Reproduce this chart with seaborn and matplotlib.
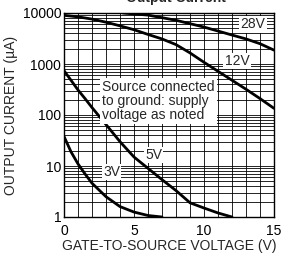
import numpy as np
import pandas as pd
import matplotlib
matplotlib.use("Agg")
import matplotlib.pyplot as plt
import seaborn as sns
from matplotlib.ticker import MultipleLocator, LogLocator, NullFormatter

# curves (gate-source voltage V, output current uA)
v3_x = [0, 0.5, 1.0, 1.5, 2.0, 3.0, 4.0, 5.0, 6.0, 7.0]
v3_y = [38, 19, 11, 7, 4.6, 2.5, 1.6, 1.25, 1.07, 1.0]

v5_x = [0, 0.5, 1.0, 1.5, 2.0, 3.0, 4.0, 5.0, 6.0, 7.0, 8.0, 9.0, 10.0, 11.0, 12.0]
v5_y = [740, 480, 310, 210, 140, 65, 30, 15, 9, 5.4, 3.3, 1.9, 1.5, 1.2, 1.0]

v12_x = [0, 1, 2, 3, 4, 5, 6, 7, 8, 9, 10, 11, 12, 13, 14, 15]
v12_y = [9000, 8400, 7600, 6600, 5600, 4700, 3800, 3100, 2400, 1650, 1080, 720, 480, 320, 210, 135]

v28_x = [4.2, 6, 8, 10, 12, 13, 14, 15]
v28_y = [10000, 9100, 7200, 5300, 3700, 3100, 2500, 1870]

curve_names = ["3V", "5V", "12V", "28V"]
label_x = [3.4, 6.4, 12.35, 13.5]
label_y = [7.6, 16.5, 1150, 6000]

frames = []
for name, xs, ys in zip(curve_names, [v3_x, v5_x, v12_x, v28_x], [v3_y, v5_y, v12_y, v28_y]):
    frames.append(pd.DataFrame({"vgs": xs, "iout": ys, "supply": name}))
df = pd.concat(frames, ignore_index=True)

sns.set_style("white")
plt.rcParams["font.family"] = ["Liberation Sans", "DejaVu Sans"]

fig = plt.figure(figsize=(2.84, 2.54), dpi=100)
ax = fig.add_axes([64/284, 1 - 217/254, 210/284, 204/254])

for name in curve_names:
    sns.lineplot(data=df[df["supply"] == name], x="vgs", y="iout", color="black",
                 linewidth=2.0, ax=ax, legend=False, zorder=3)

ax.set_yscale("log")
ax.set_xlim(0, 15)
ax.set_ylim(1, 10000)
ax.xaxis.set_minor_locator(MultipleLocator(1))
ax.yaxis.set_minor_locator(LogLocator(base=10, subs=np.arange(2, 10)))
ax.yaxis.set_minor_formatter(NullFormatter())
ax.set_yticks([1, 10, 100, 1000, 10000])
ax.set_yticklabels(["1", "10", "100", "1000", "10000"])
ax.set_xticks([0, 5, 10, 15])
ax.set_xticklabels(["0", "5", "10", "15"])
ax.tick_params(which="both", length=0, labelsize=10, colors="black")
ax.tick_params(axis="x", pad=5)
ax.tick_params(axis="y", pad=2)
ax.grid(which="both", color="black", linewidth=0.6)
for s in ax.spines.values():
    s.set_color("black")
    s.set_linewidth(1.0)

ax.set_xlabel("GATE-TO-SOURCE VOLTAGE (V)", fontsize=10, labelpad=1)
ax.set_ylabel("OUTPUT CURRENT (µA)", fontsize=10, labelpad=3)

for name, lx, ly in zip(curve_names, label_x, label_y):
    ax.text(lx, ly, name, fontsize=10, ha="center", va="center", zorder=4,
            bbox=dict(facecolor="white", edgecolor="none", pad=1))

ax.text(2.75, 185, "Source connected\nto ground: supply\nvoltage as noted", fontsize=10,
        ha="left", va="center", linespacing=1.0, zorder=4,
        bbox=dict(facecolor="white", edgecolor="none", pad=1.5))

# title sits mostly above the top edge, as in the cropped reference
fig.text(0.62, 1 - 2/254, "Output Current", ha="center", va="baseline",
         fontsize=10, fontweight="bold")

fig.savefig("out.png", dpi=100)
